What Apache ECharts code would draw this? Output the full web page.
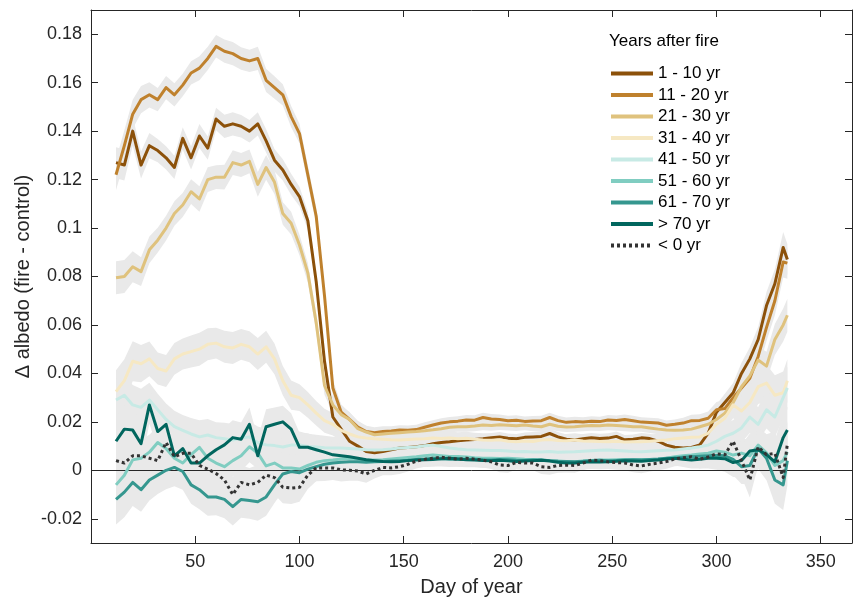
<!DOCTYPE html>
<html>
<head>
<meta charset="utf-8">
<script src="https://cdn.jsdelivr.net/npm/echarts@6/dist/echarts.min.js"></script>
<style>
  html, body { margin: 0; padding: 0; background: #ffffff; }
  #chart { width: 854px; height: 599px; }
</style>
</head>
<body>
<div id="chart"></div>
<script>
// Day of year of each sample (running-mean centres)
const days = [
  12, 16, 20, 24, 28, 32, 36, 40, 44, 48,
  52, 56, 60, 64, 68, 72, 76, 80, 84, 88,
  92, 96, 100, 104, 108, 112, 116, 120, 124, 128,
  132, 136, 140, 144, 148, 152, 156, 160, 164, 168,
  172, 176, 180, 184, 188, 192, 196, 200, 204, 208,
  212, 216, 220, 224, 228, 232, 236, 240, 244, 248,
  252, 256, 260, 264, 268, 272, 276, 280, 284, 288,
  292, 296, 300, 304, 308, 312, 316, 320, 324, 328,
  332, 334
];

// Half-width of the uncertainty envelope through the year
const bandSpread = [
  0.008, 0.008, 0.0075, 0.007, 0.0065, 0.006, 0.006, 0.006, 0.0058, 0.006,
  0.0062, 0.006, 0.0058, 0.006, 0.006, 0.0058, 0.0058, 0.006, 0.006, 0.0058,
  0.0055, 0.0055, 0.005, 0.0048, 0.0046, 0.0045, 0.0042, 0.004, 0.0036, 0.0033,
  0.003, 0.0028, 0.0027, 0.0025, 0.0025, 0.0025, 0.0025, 0.0025, 0.0025, 0.0025,
  0.0025, 0.0025, 0.0025, 0.0025, 0.0025, 0.0025, 0.0025, 0.0025, 0.0025, 0.0025,
  0.0025, 0.0025, 0.0025, 0.0025, 0.0025, 0.0025, 0.0025, 0.0025, 0.0025, 0.0025,
  0.0025, 0.0025, 0.0025, 0.0025, 0.0025, 0.0025, 0.0025, 0.0025, 0.0027, 0.003,
  0.0032, 0.0035, 0.004, 0.0045, 0.005, 0.0055, 0.006, 0.0065, 0.007, 0.0075,
  0.008, 0.008
];

// Albedo difference (fire - control) per stand-age group
const yr1to10 = [
  0.127, 0.126, 0.140, 0.126, 0.134, 0.132, 0.129, 0.125, 0.137, 0.129,
  0.138, 0.133, 0.145, 0.142, 0.143, 0.142, 0.140, 0.143, 0.136, 0.128,
  0.124, 0.118, 0.113, 0.103, 0.078, 0.045, 0.022, 0.017, 0.012, 0.010,
  0.0078, 0.0072, 0.0078, 0.0085, 0.0092, 0.0094, 0.0097, 0.0102, 0.011, 0.0115,
  0.0118, 0.0122, 0.0125, 0.0127, 0.013, 0.0134, 0.0138, 0.0132, 0.013, 0.0136,
  0.0138, 0.014, 0.0152, 0.0138, 0.0128, 0.0125, 0.013, 0.0134, 0.0131, 0.0133,
  0.014, 0.0126, 0.0128, 0.0134, 0.0131, 0.012, 0.0104, 0.0095, 0.0092, 0.0094,
  0.0105, 0.0153, 0.024, 0.028, 0.032, 0.040, 0.046, 0.054, 0.068, 0.077,
  0.092, 0.087
];
const yr11to20 = [
  0.122, 0.134, 0.147, 0.153, 0.155, 0.153, 0.158, 0.155, 0.159, 0.164,
  0.166, 0.170, 0.175, 0.173, 0.172, 0.170, 0.169, 0.170, 0.161, 0.158,
  0.155, 0.146, 0.139, 0.122, 0.105, 0.072, 0.034, 0.024, 0.021, 0.0178,
  0.016, 0.0155, 0.016, 0.0162, 0.0166, 0.0165, 0.0168, 0.0178, 0.0187, 0.0195,
  0.020, 0.0203, 0.0208, 0.0207, 0.0218, 0.0212, 0.021, 0.0205, 0.0207, 0.0202,
  0.0204, 0.0205, 0.0218, 0.0205, 0.0198, 0.0201, 0.0199, 0.0203, 0.0201, 0.0208,
  0.0206, 0.021, 0.0205, 0.0199, 0.0197, 0.0195, 0.0186, 0.019, 0.0195, 0.0205,
  0.0206, 0.0215, 0.025, 0.0255, 0.030, 0.034, 0.038, 0.047, 0.059, 0.070,
  0.086, 0.0855
];
const yr21to30 = [
  0.0795, 0.080, 0.084, 0.082, 0.091, 0.095, 0.100, 0.106, 0.1095, 0.115,
  0.112, 0.120, 0.121, 0.121, 0.127, 0.126, 0.1275, 0.118, 0.125, 0.119,
  0.106, 0.102, 0.093, 0.0815, 0.061, 0.035, 0.027, 0.023, 0.021, 0.0172,
  0.0158, 0.0147, 0.015, 0.0153, 0.0155, 0.0158, 0.016, 0.0163, 0.0167, 0.0172,
  0.0178, 0.018, 0.018, 0.0183, 0.0187, 0.0185, 0.0188, 0.0186, 0.0184, 0.0187,
  0.0183, 0.018, 0.019, 0.0182, 0.0179, 0.018, 0.0183, 0.0185, 0.0184, 0.0187,
  0.0185, 0.0183, 0.018, 0.018, 0.0175, 0.017, 0.0166, 0.0165, 0.0166, 0.017,
  0.018, 0.019, 0.021, 0.0236, 0.028, 0.0345, 0.039, 0.0455, 0.043, 0.054,
  0.060, 0.064
];
const yr31to40 = [
  0.0325, 0.037, 0.045, 0.044, 0.046, 0.042, 0.041, 0.046, 0.048, 0.049,
  0.050, 0.052, 0.0525, 0.051, 0.0505, 0.052, 0.051, 0.048, 0.051, 0.046,
  0.037, 0.031, 0.030, 0.027, 0.0236, 0.0205, 0.019, 0.0165, 0.015, 0.0138,
  0.0133, 0.013, 0.0128, 0.0126, 0.0125, 0.0127, 0.0129, 0.013, 0.0133, 0.0131,
  0.0133, 0.013, 0.0132, 0.0128, 0.0125, 0.0124, 0.0126, 0.012, 0.0118, 0.0121,
  0.0119, 0.0125, 0.0127, 0.0123, 0.0122, 0.0125, 0.0121, 0.012, 0.0119, 0.0118,
  0.012, 0.0117, 0.0118, 0.0118, 0.012, 0.0123, 0.0125, 0.013, 0.0133, 0.0136,
  0.0138, 0.0153, 0.019, 0.0215, 0.027, 0.0245, 0.028, 0.0345, 0.036, 0.031,
  0.032, 0.037
];
const yr41to50 = [
  0.029, 0.031, 0.027, 0.026, 0.029, 0.025, 0.021, 0.018, 0.0165, 0.015,
  0.0138, 0.0146, 0.0135, 0.013, 0.0125, 0.0133, 0.0138, 0.0115, 0.0105, 0.0102,
  0.0096, 0.0104, 0.0105, 0.0098, 0.0096, 0.0093, 0.0092, 0.0092, 0.009, 0.0088,
  0.0085, 0.0084, 0.0085, 0.0088, 0.0092, 0.0094, 0.0096, 0.0101, 0.0104, 0.0098,
  0.0092, 0.0088, 0.0085, 0.0084, 0.0083, 0.0082, 0.0082, 0.008, 0.0077, 0.0078,
  0.0076, 0.0076, 0.0078, 0.0075, 0.0076, 0.0077, 0.0079, 0.0081, 0.0083, 0.0084,
  0.0082, 0.008, 0.0078, 0.0077, 0.0079, 0.0081, 0.0083, 0.0084, 0.0088, 0.0092,
  0.0097, 0.0104, 0.012, 0.014, 0.0153, 0.0175, 0.022, 0.019, 0.025, 0.022,
  0.030, 0.034
];
const yr51to60 = [
  -0.006, -0.002, 0.0043, 0.005, 0.0075, 0.0115, 0.009, 0.005, 0.003, 0.0065,
  0.0095, 0.005, 0.003, 0.0015, 0.004, 0.006, 0.0097, 0.0071, 0.0018, 0.003,
  0.001, 0.001, 0.0005, 0.002, 0.0033, 0.004, 0.0043, 0.0047, 0.005, 0.0047,
  0.0043, 0.0043, 0.0044, 0.0047, 0.005, 0.0053, 0.0056, 0.006, 0.0063, 0.006,
  0.0057, 0.0057, 0.0055, 0.0052, 0.005, 0.005, 0.0049, 0.005, 0.0048, 0.0046,
  0.0045, 0.0043, 0.004, 0.0038, 0.0036, 0.0035, 0.0038, 0.0041, 0.0043, 0.0043,
  0.0044, 0.0045, 0.0044, 0.0045, 0.0045, 0.0046, 0.005, 0.0056, 0.006, 0.0063,
  0.0067, 0.0071, 0.008, 0.0075, 0.0063, 0.0071, 0.006, 0.0104, 0.0072, 0.002,
  0.004, 0.0076
];
const yr61to70 = [
  -0.012, -0.009, -0.005, -0.008, -0.004, -0.002, 0.000, 0.0012, -0.0005, -0.006,
  -0.008, -0.011, -0.011, -0.012, -0.015, -0.012, -0.0125, -0.013, -0.011, -0.006,
  -0.0015, -0.0005, -0.001, 0.0005, 0.0015, 0.0025, 0.003, 0.0033, 0.0035, 0.0035,
  0.0033, 0.0035, 0.0036, 0.0038, 0.004, 0.0042, 0.0045, 0.0047, 0.005, 0.0048,
  0.0046, 0.0047, 0.0045, 0.0046, 0.0044, 0.0043, 0.0045, 0.0044, 0.0042, 0.0041,
  0.0043, 0.0043, 0.004, 0.0037, 0.0036, 0.0035, 0.0037, 0.004, 0.0042, 0.004,
  0.0041, 0.0043, 0.0044, 0.0043, 0.0045, 0.0047, 0.005, 0.005, 0.0054, 0.0056,
  0.0058, 0.006, 0.0062, 0.006, 0.0045, 0.0015, 0.002, 0.009, 0.005, -0.004,
  -0.006, 0.004
];
const yrOver70 = [
  0.012, 0.017, 0.0166, 0.011, 0.027, 0.016, 0.019, 0.006, 0.009, 0.003,
  0.003, 0.006, 0.0085, 0.0105, 0.0135, 0.0128, 0.019, 0.006, 0.018, 0.019,
  0.020, 0.017, 0.0095, 0.0095, 0.0085, 0.0075, 0.0064, 0.006, 0.0056, 0.005,
  0.0044, 0.004, 0.0036, 0.0035, 0.0036, 0.004, 0.0043, 0.0044, 0.0045, 0.0048,
  0.005, 0.0047, 0.0044, 0.0043, 0.0041, 0.004, 0.0042, 0.0039, 0.0036, 0.0038,
  0.004, 0.0042, 0.0038, 0.0033, 0.003, 0.003, 0.0033, 0.0035, 0.0034, 0.0035,
  0.0037, 0.0039, 0.0038, 0.0037, 0.004, 0.0043, 0.0047, 0.005, 0.0046, 0.0043,
  0.0046, 0.005, 0.005, 0.0048, 0.0032, 0.004, 0.008, 0.0085, 0.0065, 0.0035,
  0.0135, 0.0166
];
const yrBeforeFire = [
  0.004, 0.003, 0.006, 0.006, 0.005, 0.004, 0.0115, 0.0056, 0.007, 0.007,
  0.002, 0.0005, -0.0013, -0.004, -0.010, -0.005, -0.006, -0.005, -0.002, -0.003,
  -0.007, -0.0073, -0.007, -0.002, 0.001, 0.001, 0.001, 0.0002, 0.0, -0.0003,
  -0.0015, 0.0, 0.0012, 0.001, 0.0015, 0.0025, 0.0038, 0.0045, 0.005, 0.0054,
  0.005, 0.0046, 0.005, 0.0046, 0.0042, 0.0035, 0.0022, 0.002, 0.0033, 0.003,
  0.003, 0.0015, 0.0012, 0.002, 0.0021, 0.002, 0.003, 0.0042, 0.004, 0.0035,
  0.0032, 0.003, 0.0022, 0.0018, 0.0025, 0.003, 0.0036, 0.0047, 0.0052, 0.0056,
  0.0046, 0.0055, 0.0068, 0.0064, 0.012, 0.004, -0.004, 0.0097, 0.0065, 0.007,
  -0.003, 0.011
];

const groupNames = ['1 - 10 yr', '11 - 20 yr', '21 - 30 yr', '31 - 40 yr',
  '41 - 50 yr', '51 - 60 yr', '61 - 70 yr', '> 70 yr', '< 0 yr'];
const groupValues = [yr1to10, yr11to20, yr21to30, yr31to40, yr41to50,
  yr51to60, yr61to70, yrOver70, yrBeforeFire];
const groupColors = ['#8c510a', '#bf812d', '#dfc27d', '#f6e8c3', '#c7eae5',
  '#80cdc1', '#35978f', '#01665e', '#333333'];
const bandScale = [0.8, 0.8, 0.85, 1.1, 1.1, 1.1, 1.3, 1.2, 1.2];

const FONT = '"Liberation Sans", Arial, Helvetica, sans-serif';
const INK = '#262626';

function isMultiple(v, step) {
  const r = v / step;
  return Math.abs(r - Math.round(r)) < 1e-6;
}

// Filled envelope between lower and upper bounds, drawn as one polygon
function bandRenderer(params, api) {
  if (params.dataIndexInside !== 0) return null;
  const n = params.dataInsideLength;
  const upper = [], lower = [];
  for (let i = 0; i < n; i++) {
    const x = api.value(0, i);
    lower.push(api.coord([x, api.value(1, i)]));
    upper.push(api.coord([x, api.value(2, i)]));
  }
  return {
    type: 'polygon',
    shape: { points: lower.concat(upper.reverse()) },
    style: { fill: '#e9e9e9', stroke: null }
  };
}

const series = [];
groupValues.forEach((vals, g) => {
  const band = {
    type: 'custom',
    name: 'band ' + groupNames[g],
    coordinateSystem: 'cartesian2d',
    renderItem: bandRenderer,
    data: days.map((d, k) => {
      const h = bandSpread[k] * bandScale[g];
      return [d, vals[k] - h, vals[k] + h];
    }),
    encode: { x: 0, y: [1, 2] },
    silent: true,
    clip: true,
    z: 1
  };
  if (g === groupValues.length - 1) {
    band.markLine = {
      silent: true,
      symbol: ['none', 'none'],
      label: { show: false },
      lineStyle: { color: INK, width: 1, type: 'solid' },
      emphasis: { disabled: true },
      data: [{ yAxis: 0 }],
      z: 2
    };
  }
  series.push(band);
});
groupValues.forEach((vals, g) => {
  const dotted = g === groupValues.length - 1;
  series.push({
    type: 'line',
    name: groupNames[g],
    data: days.map((d, k) => [d, vals[k]]),
    symbol: 'none',
    showSymbol: false,
    lineStyle: {
      color: groupColors[g],
      width: 3,
      type: dotted ? [3, 3] : 'solid',
      cap: 'butt',
      join: 'round'
    },
    itemStyle: { color: groupColors[g] },
    silent: true,
    z: 3
  });
});

const axisLine = { show: true, onZero: false, lineStyle: { color: INK, width: 1 } };
const axisTick = { show: true, inside: true, length: 7, lineStyle: { color: INK, width: 1 } };

const xBase = { type: 'value', min: 0, max: 365, interval: 50, axisLine, axisTick, splitLine: { show: false } };
const yBase = { type: 'value', min: -0.03, max: 0.19, minInterval: 0.02, maxInterval: 0.02, axisLine, axisTick, splitLine: { show: false } };

const option = {
  animation: false,
  backgroundColor: '#ffffff',
  title: {
    text: 'Years after fire',
    left: 609,
    top: 33,
    padding: 0,
    textStyle: { fontSize: 17, fontWeight: 'normal', color: '#000000', fontFamily: FONT }
  },
  legend: {
    data: groupNames,
    orient: 'vertical',
    left: 609,
    top: 65,
    padding: 0,
    itemWidth: 42,
    itemHeight: 14,
    itemGap: 4.5,
    selectedMode: false,
    itemStyle: { opacity: 0, borderWidth: 0 },
    lineStyle: { width: 4 },
    textStyle: { fontSize: 17, color: '#000000', fontFamily: FONT }
  },
  grid: { left: 91, right: 2, top: 10, bottom: 56, containLabel: false, outerBoundsMode: 'none' },
  xAxis: [
    Object.assign({}, xBase, {
      position: 'bottom',
      axisLabel: {
        fontSize: 18, color: INK, fontFamily: FONT, margin: 10,
        formatter: v => (v > 0 && isMultiple(v, 50)) ? String(v) : ''
      },
      name: 'Day of year',
      nameLocation: 'middle',
      nameGap: 34,
      nameMoveOverlap: false,
      nameTextStyle: { fontSize: 20, color: INK, fontFamily: FONT }
    }),
    Object.assign({}, xBase, { position: 'top', axisLabel: { show: false } })
  ],
  yAxis: [
    Object.assign({}, yBase, {
      position: 'left',
      axisLabel: {
        fontSize: 18, color: INK, fontFamily: FONT, margin: 9,
        formatter: v => isMultiple(v, 0.02) ? String(parseFloat(v.toFixed(2))) : ''
      },
      name: 'Δ albedo (fire - control)',
      nameLocation: 'middle',
      nameGap: 58,
      nameMoveOverlap: false,
      nameTextStyle: { fontSize: 20, color: INK, fontFamily: FONT }
    }),
    Object.assign({}, yBase, { position: 'right', axisLabel: { show: false } })
  ],
  series: series
};

const chart = echarts.init(document.getElementById('chart'), null, { renderer: 'canvas' });
chart.setOption(option);
</script>
</body>
</html>
